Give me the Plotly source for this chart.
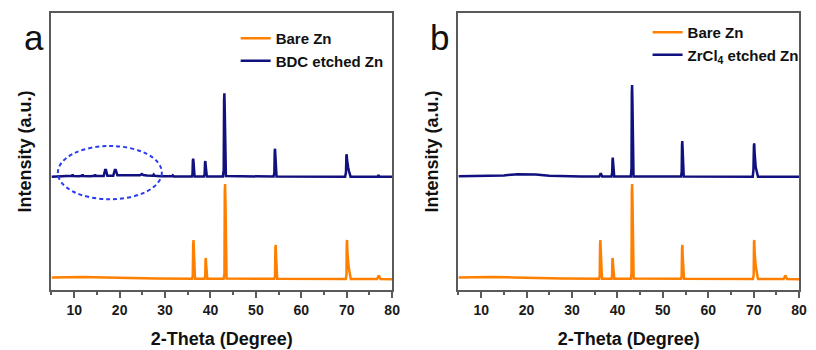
import plotly.graph_objects as go

# ---- XRD patterns (2-theta in degrees, intensity in a.u., curves offset vertically) ----
# Panel a
tt_bare_a = [5, 8, 12, 17, 22, 28, 35.95,
             36.1, 36.2, 36.27, 36.35, 36.45, 36.6, 38.7,
             38.85, 38.92, 38.98, 39.05, 39.15, 39.3, 42.9,
             43.08, 43.15, 43.22, 43.3, 43.4, 43.55, 54.05,
             54.22, 54.3, 54.37, 54.45, 54.55, 54.7, 69.8,
             69.95, 70.02, 70.08, 70.16, 70.25, 70.4, 70.55, 70.7, 70.9,
             76.7, 76.9, 77.05, 77.2, 77.45, 80]
i_bare_a = [12.5, 13.0, 13.0, 12.6, 12.0, 11.5, 11.3,
            14, 46, 50, 40, 13, 11.3, 11.3,
            14, 30, 32, 26, 12.5, 11.3, 11.3,
            16, 98, 106, 90, 18, 11.6, 11.2,
            14, 42, 45, 34, 13, 11.2, 11.1,
            15, 48, 50, 38, 28, 24, 20, 14, 11.1,
            11.0, 13.5, 14.5, 13.5, 11.0, 10.8]

tt_bdc = [5, 7, 8.5, 9.5, 9.65, 9.8, 11, 11.7, 11.85, 12, 13.5, 14.5, 14.6, 14.75,
          16.5, 16.7, 16.8, 17.0, 17.15, 17.3, 18.6, 18.85, 18.95, 19.15, 19.3, 19.5,
          21, 22.5, 24.5, 24.9, 25.2, 26, 27.3, 27.5, 27.7, 29, 31.5, 31.7, 31.9, 35.9,
          36.05, 36.12, 36.2, 36.28, 36.38, 36.5, 38.55,
          38.72, 38.8, 38.87, 38.95, 39.05, 39.2, 42.75,
          42.92, 43.0, 43.07, 43.15, 43.25, 43.4, 53.9,
          54.07, 54.15, 54.22, 54.3, 54.4, 54.55, 69.65,
          69.85, 69.93, 70.0, 70.08, 70.18, 70.35, 70.5, 70.65, 70.85,
          76.8, 77.0, 77.2, 80]
i_bdc = [113.3, 113.8, 113.5, 114.2, 115.5, 114.0, 113.8, 114.2, 115.5, 114.0, 113.8, 114.2, 115.5, 114.0,
         114.0, 117.0, 120.0, 120.0, 116.0, 114.3, 114.3, 117.5, 120.0, 120.0, 116.0, 114.8,
         114.8, 114.5, 114.7, 116.0, 115.0, 114.4, 114.3, 115.5, 114.2, 113.8, 113.7, 114.6, 113.6, 113.5,
         116, 129, 131.3, 128, 116, 113.5, 113.5,
         116, 127, 129, 125, 116, 113.5, 113.5,
         120, 190, 196.7, 180, 122, 114, 113.4,
         117, 138, 141.3, 134, 117, 113.4, 113.3,
         118, 134, 135.7, 130, 124, 122, 119, 116, 113.3,
         113.2, 115.0, 113.2, 113.2]

# Panel b
tt_bare_b = [5, 8, 12, 17, 22, 28, 35.95,
             36.1, 36.18, 36.25, 36.33, 36.43, 36.6, 38.7,
             38.82, 38.9, 38.96, 39.03, 39.13, 39.3, 42.95,
             43.1, 43.17, 43.24, 43.32, 43.42, 43.57, 54.0,
             54.15, 54.23, 54.3, 54.38, 54.48, 54.65, 69.85,
             70.0, 70.07, 70.13, 70.21, 70.3, 70.45, 70.6, 70.75, 70.95,
             76.6, 76.8, 76.97, 77.12, 77.35, 80]
i_bare_b = [12.5, 13.0, 13.0, 12.6, 12.0, 11.5, 11.3,
            14, 46, 50, 40, 13, 11.3, 11.3,
            14, 30, 32, 26, 12.5, 11.3, 11.3,
            16, 98, 106, 90, 18, 11.6, 11.2,
            14, 42, 45, 34, 13, 11.2, 11.1,
            15, 48, 50, 38, 28, 24, 20, 14, 11.1,
            11.0, 13.5, 14.5, 13.5, 11.0, 10.8]

tt_zrcl4 = [5, 8, 12, 15, 18, 20, 22, 25, 28, 32, 36.0,
            36.2, 36.33, 36.45, 36.65, 38.7,
            38.85, 38.92, 38.97, 39.05, 39.15, 39.3, 42.95,
            43.1, 43.17, 43.23, 43.3, 43.4, 43.55, 54.0,
            54.15, 54.22, 54.28, 54.35, 54.45, 54.6, 69.8,
            69.95, 70.05, 70.12, 70.2, 70.3, 70.45, 70.6, 70.75, 70.95, 80]
i_zrcl4 = [113.8, 114.0, 114.0, 114.6, 115.8, 116.0, 115.5, 114.2, 113.6, 113.4, 113.4,
           115.5, 116.7, 115.5, 113.4, 113.4,
           118, 130, 132.3, 128, 116, 113.4, 113.4,
           122, 197, 205, 190, 122, 113.6, 113.4,
           118, 145, 149, 142, 118, 113.4, 113.3,
           120, 144, 146.7, 138, 126, 123, 120, 116, 113.3, 113.2]

ORANGE = "#ff8000"
NAVY = "#10107e"
AXIS_GRAY = "#5a5a5a"
SANS = "Liberation Sans, Arial, sans-serif"

fig = go.Figure()

fig.add_trace(go.Scatter(x=tt_bare_a, y=i_bare_a, mode="lines", name="Bare Zn",
                         line=dict(color=ORANGE, width=2.5), xaxis="x", yaxis="y",
                         legend="legend"))
fig.add_trace(go.Scatter(x=tt_bdc, y=i_bdc, mode="lines", name="BDC etched Zn",
                         line=dict(color=NAVY, width=2.5), xaxis="x", yaxis="y",
                         legend="legend"))
fig.add_trace(go.Scatter(x=tt_bare_b, y=i_bare_b, mode="lines", name="Bare Zn",
                         line=dict(color=ORANGE, width=2.5), xaxis="x2", yaxis="y2",
                         legend="legend2"))
fig.add_trace(go.Scatter(x=tt_zrcl4, y=i_zrcl4, mode="lines", name="ZrCl<sub>4</sub> etched Zn",
                         line=dict(color=NAVY, width=2.5), xaxis="x2", yaxis="y2",
                         legend="legend2"))

W, H = 816, 350
y_dom = [(H - 290) / H, (H - 13) / H]

def x_axis(domain, anchor):
    return dict(
        domain=domain, anchor=anchor, range=[5, 80],
        showline=True, linecolor=AXIS_GRAY, linewidth=1.5, mirror=True,
        ticks="outside", ticklen=6, tickwidth=1.5, tickcolor=AXIS_GRAY,
        tick0=0, dtick=10,
        minor=dict(dtick=5, ticks="outside", ticklen=3, tickwidth=1.5, tickcolor=AXIS_GRAY),
        showgrid=False, zeroline=False,
        tickfont=dict(family=SANS, size=14, color="#1a1a1a", weight="bold"),
        title=dict(text="2-Theta (Degree)", standoff=16,
                   font=dict(family=SANS, size=18, color="#111", weight="bold")),
    )

def y_axis(anchor):
    return dict(
        domain=y_dom, anchor=anchor, range=[0, 277],
        showline=True, linecolor=AXIS_GRAY, linewidth=1.5, mirror=True,
        ticks="", showticklabels=False, showgrid=False, zeroline=False,
        title=dict(text="Intensity (a.u.)", standoff=13,
                   font=dict(family=SANS, size=18, color="#111", weight="bold")),
    )

legend_font = dict(family=SANS, size=15, color="#111", weight="bold")

fig.update_layout(
    width=W, height=H,
    margin=dict(l=0, r=0, t=0, b=0),
    paper_bgcolor="white", plot_bgcolor="white",
    xaxis=x_axis([52 / W, 396 / W], "y"),
    yaxis=y_axis("x"),
    xaxis2=x_axis([463 / W, 807 / W], "y2"),
    yaxis2=y_axis("x2"),
    legend=dict(x=238 / W, y=1 - 22 / H, xanchor="left", yanchor="top",
                bgcolor="rgba(0,0,0,0)", font=legend_font, traceorder="normal"),
    legend2=dict(x=654 / W, y=1 - 16 / H, xanchor="left", yanchor="top",
                 bgcolor="rgba(0,0,0,0)", font=legend_font, traceorder="normal"),
    showlegend=True,
)

# Panel letters
for letter, xc in (("a", 34), ("b", 444)):
    fig.add_annotation(text=letter, xref="paper", yref="paper",
                       x=xc / W, y=1 - 37 / H, xanchor="center", yanchor="middle",
                       showarrow=False,
                       font=dict(family=SANS, size=35, color="#111"))

# Dashed ellipse marking the weak low-angle reflections of the BDC-etched sample
fig.add_shape(type="circle", xref="x", yref="y",
              x0=6.4, x1=29.3, y0=90.7, y1=144,
              line=dict(color="#2a3cf0", width=2, dash="4px,3px"))

fig.write_html("out.html")
